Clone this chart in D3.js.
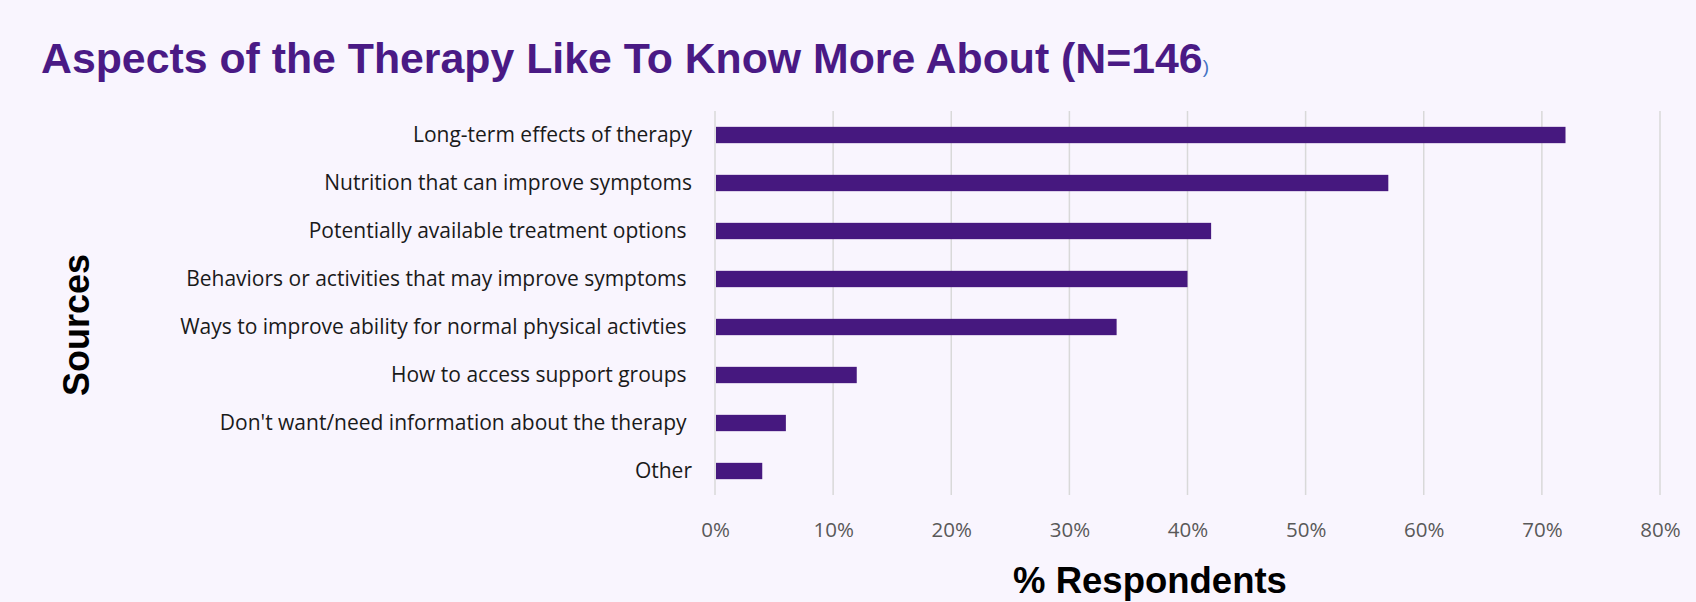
<!DOCTYPE html>
<html><head><meta charset="utf-8">
<script src="https://cdn.jsdelivr.net/npm/d3@7"></script>
<style>
html,body{margin:0;padding:0;background:#F9F5FE;}
svg{display:block;}
</style></head>
<body><svg id="chart" width="1696" height="602"></svg>
<script>
const categories = [
  "Long-term effects of therapy",
  "Nutrition that can improve symptoms",
  "Potentially available treatment options ",
  "Behaviors or activities that may improve symptoms ",
  "Ways to improve ability for normal physical activties ",
  "How to access support groups ",
  "Don't want/need information about the therapy ",
  "Other"
];
const values = [72, 57, 42, 40, 34, 12, 6, 4];
const tickValues = [0, 10, 20, 30, 40, 50, 60, 70, 80];
const titleText = "Aspects of the Therapy Like To Know More About (N=146";
const titleTail = ")";
const xTitle = "% Respondents";
const yTitle = "Sources";

(function () {
const svg = d3.select("#chart");
const W = 1696, H = 602;
svg.append("rect").attr("width", W).attr("height", H).attr("fill", "#F9F5FE");

const pLeft = 715, pRight = 1660, pTop = 111, pBottom = 495;
const x = d3.scaleLinear().domain([0, 80]).range([pLeft, pRight]);
const y = d3.scaleBand().domain(categories).range([pTop, pBottom]).paddingInner(0.66).paddingOuter(0.33);

// gridlines
svg.append("g").selectAll("line").data(tickValues).join("line")
  .attr("x1", d => x(d)).attr("x2", d => x(d))
  .attr("y1", pTop).attr("y2", pBottom)
  .attr("stroke", "#D9D9D9").attr("stroke-width", 1.5);

// bars
svg.append("g").selectAll("rect").data(values).join("rect")
  .attr("x", x(0) + 1)
  .attr("y", (d, i) => y(categories[i]))
  .attr("width", d => x(d) - x(0) - 1)
  .attr("height", y.bandwidth())
  .attr("fill", "#46187F");

// x axis
const xAxis = d3.axisBottom(x).tickValues(tickValues).tickFormat(d => d + "%").tickSize(0).tickPadding(0);
const gx = svg.append("g").attr("transform", `translate(0,${pBottom})`).call(xAxis);
gx.select(".domain").remove();
gx.selectAll("text").attr("dy", null).attr("y", 42)
  .attr("font-family", "'Open Sans', 'Noto Sans', sans-serif").attr("font-size", 20.5)
  .attr("fill", "#595959");

// y axis labels
const yAxis = d3.axisLeft(y).tickSize(0).tickPadding(0);
const gy = svg.append("g").attr("transform", `translate(${pLeft - 23},0)`).call(yAxis);
gy.select(".domain").remove();
gy.selectAll("text")
  .attr("font-family", "'Open Sans', 'Noto Sans', sans-serif").attr("font-size", 21)
  .attr("fill", "#1a1a1a").style("white-space", "pre");

// title
const t = svg.append("text").attr("x", 41).attr("y", 73)
  .attr("font-family", "'Liberation Sans', Arial, sans-serif").attr("font-weight", "bold")
  .attr("font-size", 42.8).attr("fill", "#4A1A85");
t.append("tspan").text(titleText);
t.append("tspan").attr("font-size", 19).attr("font-weight", "normal").attr("fill", "#4472C4").text(titleTail);

// x title
svg.append("text").attr("x", 1150).attr("y", 593).attr("text-anchor", "middle")
  .attr("font-family", "'Liberation Sans', Arial, sans-serif").attr("font-weight", "bold")
  .attr("font-size", 36.5).attr("fill", "#000").text(xTitle);

// y title
svg.append("text").attr("transform", "translate(89,325) rotate(-90)").attr("text-anchor", "middle")
  .attr("font-family", "'Liberation Sans', Arial, sans-serif").attr("font-weight", "bold")
  .attr("font-size", 36).attr("fill", "#000").text(yTitle);
})();
</script>
</body></html>
